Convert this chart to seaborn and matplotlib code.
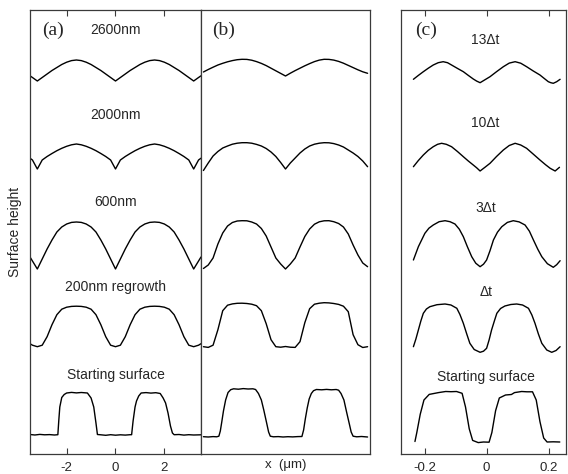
import matplotlib
matplotlib.use('Agg')
import matplotlib.pyplot as plt
import seaborn as sns
import pandas as pd

# ---- panel (a) / (b): x in um, heights above each trace's baseline (arb. units)
xa = [-3.5, -3.4, -3.2, -3.0, -2.8, -2.6, -2.4, -2.2, -2.0, -1.8, -1.6, -1.4, -1.2,
      -1.0, -0.8, -0.6, -0.4, -0.2, 0.0, 0.2, 0.4, 0.6, 0.8, 1.0, 1.2, 1.4, 1.6,
      1.8, 2.0, 2.2, 2.4, 2.6, 2.8, 3.0, 3.2, 3.4, 3.5]
a_2600 = [5.2, 3.5, 0, 3.5, 7, 10.5, 13.5, 16.5, 18.8, 20.4, 21, 20.4, 18.8, 16.5, 13.5,
          10.5, 7, 3.5, 0, 3.5, 7, 10.5, 13.5, 16.5, 18.8, 20.4, 21, 20.4, 18.8, 16.5,
          13.5, 10.5, 7, 3.5, 0, 3.5, 5.2]
a_2000 = [10.8, 9, 0, 9, 12.5, 15.5, 18.3, 20.7, 22.7, 24.2, 25, 24.2, 22.7, 20.7, 18.3,
          15.5, 12.5, 9, 0, 9, 12.5, 15.5, 18.3, 20.7, 22.7, 24.2, 25, 24.2, 22.7, 20.7,
          18.3, 15.5, 12.5, 9, 0, 9, 10.8]
a_600 = [12, 8, 0, 10, 20, 29, 37, 42, 45, 46.6, 47, 46.6, 45, 42, 37, 29, 20, 10, 0,
         10, 20, 29, 37, 42, 45, 46.6, 47, 46.6, 45, 42, 37, 29, 20, 10, 0, 8, 12]
a_200 = [3, 1.5, 0, 1.5, 10, 22, 32, 37.5, 39.5, 40.3, 40.5, 40.3, 39.5, 37.5, 32, 22,
         10, 1.5, 0, 1.5, 10, 22, 32, 37.5, 39.5, 40.3, 40.5, 40.3, 39.5, 37.5, 32, 22,
         10, 1.5, 0, 1.5, 3]
a_start_x = [-3.5, -3.3, -3.1, -2.9, -2.7, -2.5, -2.36, -2.32, -2.28, -2.2, -2.1, -2.0,
             -1.8, -1.6, -1.4, -1.15, -1.0, -0.89, -0.8, -0.74, -0.6, -0.4, -0.2, 0.0,
             0.2, 0.4, 0.6, 0.66, 0.72, 0.8, 0.86, 0.95, 1.05, 1.25, 1.45, 1.65, 1.83,
             1.95, 2.05, 2.15, 2.25, 2.33, 2.4, 2.6, 2.8, 3.0, 3.2, 3.5]
a_start = [0.5, 0, 0.6, 0.2, 0.4, 0, 0.3, 15, 28, 37.5, 40.5, 42, 42.6, 42.1, 42.5, 42,
           37, 28, 12, 0.5, 0.2, -0.3, 0.3, -0.2, 0.2, -0.1, 0.3, 0.3, 14, 28, 34, 39,
           42, 42.4, 41.9, 42.3, 41.5, 37, 32, 22, 9, 2, 0.3, 0.5, -0.1, 0.3, 0, 0.2]

xb = [-3.4, -3.2, -3.0, -2.8, -2.6, -2.4, -2.2, -2.0, -1.8, -1.6, -1.4, -1.2, -1.0,
      -0.8, -0.6, -0.4, -0.2, 0.0, 0.2, 0.4, 0.6, 0.8, 1.0, 1.2, 1.4, 1.6, 1.8, 2.0,
      2.2, 2.4, 2.6, 2.8, 3.0, 3.2, 3.4]
b_2600 = [4, 6.5, 8.8, 11, 12.7, 14.2, 15.4, 16.3, 16.7, 16.6, 15.8, 14.4, 12.6, 10.4,
          7.8, 5.2, 2.6, 0, 2.8, 5.4, 7.8, 10.2, 12.4, 14.4, 15.9, 16.7, 16.6, 15.9,
          14.6, 12.8, 10.6, 8.4, 6.2, 4.2, 2.7]
b_2000 = [-1.5, 6, 13, 17.5, 21, 23, 24.8, 25.8, 26.3, 26.3, 25.8, 24.6, 23, 20.5, 17,
          12.5, 6.5, 0, 6, 11, 16, 20, 23, 24.8, 25.8, 26.3, 26.2, 25.4, 24, 22, 19, 16,
          12.5, 8, 2.3]
b_600 = [0.5, 4, 11, 25, 36, 43, 46.5, 48, 48.3, 48.2, 47, 45, 40.5, 33, 22, 11, 5, 0,
         5, 11, 22, 32.5, 40, 44.8, 47.2, 48.2, 48.3, 47.3, 45.5, 42, 35, 24, 14, 6, 2.3]
b_200 = [1, 0.3, 2.5, 18, 37, 42.5, 43.8, 44.4, 44.5, 44.2, 43.5, 42, 37, 24, 8, 1, 0.5,
         1.2, 0.5, 0.3, 6, 25, 39, 43.5, 44.5, 45, 44.8, 44.2, 43.3, 41.5, 36, 13, 3,
         0.2, 1]
b_start_x = [-3.4, -3.2, -3.0, -2.85, -2.76, -2.7, -2.64, -2.57, -2.48, -2.38, -2.27,
             -2.15, -1.95, -1.75, -1.55, -1.35, -1.24, -1.12, -1.0, -0.9, -0.79, -0.7,
             -0.63, -0.5, -0.3, -0.1, 0.1, 0.3, 0.5, 0.68, 0.75, 0.82, 0.9, 0.98, 1.07,
             1.16, 1.28, 1.5, 1.7, 1.9, 2.1, 2.2, 2.3, 2.42, 2.53, 2.64, 2.72, 2.8, 2.95,
             3.15, 3.4]
b_start = [0.3, 0, 0.4, 0.2, 0.8, 6, 15, 26, 37, 44.5, 47.3, 48.2, 47.8, 48.4, 48.0,
           48.2, 47.5, 43.5, 37, 27, 15, 5, 0.8, 0.2, 0.4, 0, 0.3, 0.1, 0.4, 0.5, 7, 18,
           29, 38, 43.5, 46.3, 47.5, 47.2, 47.6, 47.2, 47.5, 46.8, 43.5, 37, 25, 13.5,
           5, 0.8, 0.2, 0.5, 0]

# ---- panel (c)
c_13_x = [-0.236, -0.22, -0.204, -0.188, -0.172, -0.156, -0.14, -0.126, -0.113, -0.094,
          -0.075, -0.059, -0.043, -0.032, -0.021, -0.005, 0.011, 0.032, 0.054, 0.073,
          0.092, 0.11, 0.129, 0.15, 0.172, 0.186, 0.199, 0.207, 0.215, 0.226, 0.237]
c_13 = [3.4, 7.3, 11, 14.5, 17.7, 20, 21, 20, 17.7, 14.3, 11, 7.3, 3.7, 1.6, 0, 3, 6,
        11, 16, 19.6, 21, 19.5, 16, 11.8, 7.7, 4.2, 1, 0, -0.6, 1, 3.4]
c_10_x = [-0.236, -0.22, -0.204, -0.188, -0.172, -0.158, -0.145, -0.13, -0.113, -0.094,
          -0.075, -0.059, -0.043, -0.032, -0.021, -0.005, 0.011, 0.032, 0.054, 0.073,
          0.092, 0.11, 0.129, 0.15, 0.172, 0.19, 0.205, 0.221, 0.235]
c_10 = [4.3, 10.5, 16, 20.7, 24.3, 26.7, 27.7, 26.7, 24.3, 19.5, 14.3, 10, 6, 3.2, 0,
        3.8, 7.7, 14.5, 21, 25.5, 27.7, 26, 22.7, 17, 11, 6.3, 2.7, 0, 3.7]
c_3_x = [-0.236, -0.22, -0.199, -0.186, -0.172, -0.153, -0.134, -0.118, -0.102, -0.088,
         -0.075, -0.062, -0.048, -0.035, -0.021, -0.01, 0.0, 0.011, 0.022, 0.035, 0.049,
         0.067, 0.086, 0.105, 0.124, 0.138, 0.151, 0.165, 0.178, 0.196, 0.215, 0.226,
         0.237]
c_3 = [6.7, 20, 33.4, 38.5, 41.7, 45, 46, 45, 42.7, 37.5, 30, 20, 10, 3.5, 0, 2.5, 6.7,
       16, 26.7, 34.5, 40, 44.3, 46, 44.8, 41.7, 35.5, 26.7, 17.5, 10, 3, -0.6, 2, 6]
c_dt_x = [-0.236, -0.228, -0.22, -0.212, -0.204, -0.194, -0.183, -0.16, -0.134, -0.115,
          -0.096, -0.086, -0.075, -0.064, -0.054, -0.04, -0.021, -0.01, 0.0, 0.008,
          0.016, 0.025, 0.033, 0.045, 0.059, 0.078, 0.097, 0.116, 0.135, 0.146, 0.156,
          0.167, 0.178, 0.194, 0.21, 0.224, 0.237]
c_dt = [5.3, 13, 22, 31, 38.7, 43, 45.3, 47.3, 48, 47, 43.7, 37.5, 28.7, 18, 8.7, 2.5,
        -0.3, 0.8, 3.7, 12, 22, 31, 38.7, 43.5, 46, 47.5, 48, 47, 43.7, 37, 28.7, 18,
        8.7, 2, -0.3, 1.5, 5.3]
c_start_x = [-0.231, -0.225, -0.214, -0.202, -0.185, -0.17, -0.155, -0.132, -0.115,
             -0.097, -0.079, -0.068, -0.056, -0.045, -0.027, -0.01, 0.008, 0.017, 0.029,
             0.041, 0.061, 0.08, 0.09, 0.113, 0.13, 0.148, 0.16, 0.172, 0.184, 0.195,
             0.215, 0.236]
c_start = [0.5, 9.5, 27.7, 42, 47.6, 48.5, 49.4, 50.5, 50.3, 50.5, 48.7, 35, 13.2, 1.6,
           -0.6, 0, -0.2, 9.5, 31.3, 44, 47, 47.5, 49.4, 50.5, 50.2, 50.2, 42, 20.4, 4,
           0, 0.2, 0]

# baselines of the stacked traces (bottom to top)
a_offsets = [19, 107.3, 185, 285, 373]
b_offsets = [17, 106.3, 185, 285, 378]
c_offsets = [12, 102, 187.3, 283, 371.3]

a_labels = ['Starting surface', '200nm regrowth', '600nm', '2000nm', '2600nm']
c_labels = ['Starting surface', '\u0394t', '3\u0394t', '10\u0394t', '13\u0394t']
a_label_y = [79.5, 167, 252, 339, 424]
c_label_y = [77, 162.3, 246, 331, 414]

traces = {
    'a': [(a_start_x, a_start), (xa, a_200), (xa, a_600), (xa, a_2000), (xa, a_2600)],
    'b': [(b_start_x, b_start), (xb, b_200), (xb, b_600), (xb, b_2000), (xb, b_2600)],
    'c': [(c_start_x, c_start), (c_dt_x, c_dt), (c_3_x, c_3), (c_10_x, c_10), (c_13_x, c_13)],
}
offsets = {'a': a_offsets, 'b': b_offsets, 'c': c_offsets}

rows = []
for panel, lst in traces.items():
    for i, (xs, hs) in enumerate(lst):
        for x, h in zip(xs, hs):
            rows.append({'panel': panel, 'trace': i, 'x': x, 'y': offsets[panel][i] + h})
df = pd.DataFrame(rows)

sns.set_theme(style='white')
plt.rcParams['font.family'] = ['Liberation Sans', 'DejaVu Sans']
plt.rcParams['axes.unicode_minus'] = False

W, H = 568, 474
fig = plt.figure(figsize=(W / 100, H / 100), dpi=100)
bottom, top = 1 - 454 / H, 1 - 9.5 / H
ax_a = fig.add_axes([30 / W, bottom, 171 / W, top - bottom])
ax_b = fig.add_axes([201 / W, bottom, 169 / W, top - bottom])
ax_c = fig.add_axes([401 / W, bottom, 165 / W, top - bottom])

for ax, panel in zip([ax_a, ax_b, ax_c], 'abc'):
    sns.lineplot(data=df[df.panel == panel], x='x', y='y', units='trace',
                 estimator=None, sort=False, color='black', lw=1.0, ax=ax, legend=False)
    ax.set_ylim(0, 444.5)
    ax.set_yticks([])
    ax.set_xlabel('')
    ax.set_ylabel('')
    for s in ax.spines.values():
        s.set_visible(True)
        s.set_color('#3a3a3a')
        s.set_linewidth(0.9)

ax_a.set_xlim(-3.5, 3.5)
ax_b.set_xlim(-3.5, 3.5)
ax_c.set_xlim(-0.276, 0.256)

ax_a.set_xticks([-2, 0, 2])
ax_a.set_xticklabels(['-2', '0', '2'])
ax_c.set_xticks([-0.2, 0, 0.2])
ax_c.set_xticklabels(['-0.2', '0', '0.2'])
for ax in (ax_a, ax_c):
    ax.tick_params(axis='x', direction='in', top=True, bottom=True, length=4,
                   width=0.8, color='#3a3a3a', labelsize=9.5, pad=6)
ax_b.set_xticks([])

for lab, y in zip(a_labels, a_label_y):
    ax_a.text(0, y, lab, ha='center', va='center', fontsize=10)
for lab, y in zip(c_labels, c_label_y):
    ax_c.text(-0.003, y, lab, ha='center', va='center', fontsize=10)

serif = ['Liberation Serif', 'DejaVu Serif']
ax_a.text(-3.0, 424, '(a)', ha='left', va='center', fontsize=14, family=serif)
ax_b.text(-3.04, 424, '(b)', ha='left', va='center', fontsize=14, family=serif)
ax_c.text(-0.231, 424, '(c)', ha='left', va='center', fontsize=14, family=serif)

ax_a.set_ylabel('Surface height', fontsize=10, labelpad=6)
ax_b.set_xlabel('x  (\u03bcm)', fontsize=9.5, labelpad=3.5)

fig.savefig('out.png', dpi=100)
